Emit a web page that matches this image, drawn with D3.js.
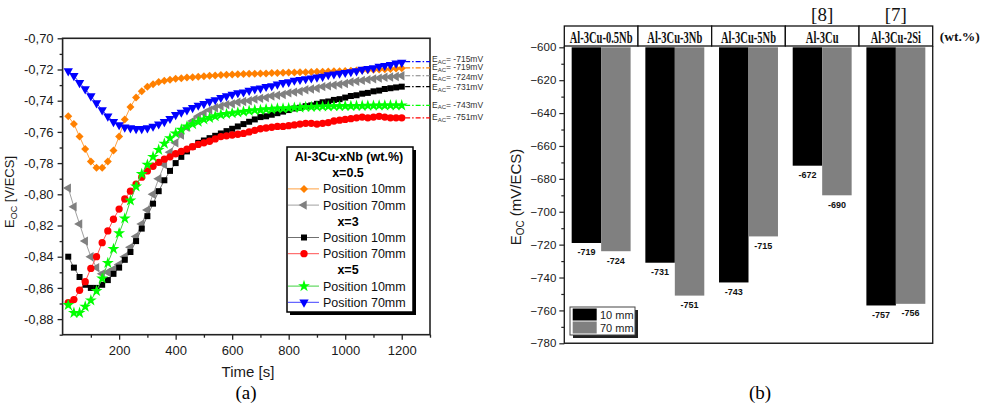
<!DOCTYPE html>
<html lang="en">
<head>
<meta charset="utf-8">
<title>Eoc - Al-3Cu-xNb</title>
<script src="https://cdn.jsdelivr.net/npm/d3@7"></script>
<style>
  body { margin: 0; background: #fff; }
  svg { display: block; }
</style>
</head>
<body>
<script>

// ---------- (a) open circuit potential vs time ----------
var timeS = [20, 40, 60, 80, 100, 120, 140, 160, 180, 200,
  220, 240, 260, 280, 300, 320, 340, 360, 380, 400,
  420, 440, 460, 480, 500, 520, 540, 560, 580, 600,
  620, 640, 660, 680, 700, 720, 740, 760, 780, 800,
  820, 840, 860, 880, 900, 920, 940, 960, 980, 1000,
  1020, 1040, 1060, 1080, 1100, 1120, 1140, 1160, 1180, 1200];

// x=0.5, position 10mm
var nb05Pos10 = [-0.750, -0.755, -0.763, -0.771, -0.779, -0.783, -0.783, -0.779, -0.772, -0.763,
  -0.752, -0.744, -0.738, -0.734, -0.731, -0.7295, -0.728, -0.7272, -0.7265, -0.726,
  -0.7256, -0.7252, -0.7249, -0.7246, -0.7243, -0.724, -0.7238, -0.7236, -0.7234, -0.7232,
  -0.7231, -0.7229, -0.7228, -0.7227, -0.7226, -0.7225, -0.7223, -0.7222, -0.7221, -0.722,
  -0.7219, -0.7218, -0.7217, -0.7216, -0.7215, -0.7214, -0.7213, -0.7212, -0.7211, -0.721,
  -0.7208, -0.7206, -0.7205, -0.7203, -0.7202, -0.720, -0.7198, -0.7196, -0.7194, -0.7192];
// x=0.5, position 70mm
var nb05Pos70 = [-0.796, -0.808, -0.819, -0.830, -0.840, -0.847, -0.851, -0.850, -0.848, -0.845,
  -0.840, -0.834, -0.827, -0.819, -0.810, -0.800, -0.790, -0.781, -0.773, -0.767,
  -0.762, -0.757, -0.753, -0.750, -0.748, -0.746, -0.7445, -0.7435, -0.7425, -0.742,
  -0.741, -0.7405, -0.740, -0.739, -0.7385, -0.738, -0.737, -0.7365, -0.736, -0.735,
  -0.7345, -0.734, -0.733, -0.7325, -0.732, -0.731, -0.7305, -0.730, -0.7295, -0.729,
  -0.728, -0.7275, -0.727, -0.7265, -0.726, -0.7255, -0.725, -0.7248, -0.7245, -0.724];
// x=3, position 10mm
var nb3Pos10 = [-0.840, -0.847, -0.853, -0.858, -0.860, -0.860, -0.858, -0.855, -0.851, -0.847,
  -0.842, -0.837, -0.830, -0.822, -0.814, -0.806, -0.798, -0.791, -0.785, -0.780,
  -0.776, -0.7725, -0.7695, -0.767, -0.7655, -0.764, -0.7625, -0.761, -0.7595, -0.758,
  -0.7565, -0.755, -0.7535, -0.752, -0.7505, -0.750, -0.749, -0.748, -0.747, -0.746,
  -0.745, -0.7445, -0.7435, -0.743, -0.742, -0.741, -0.7405, -0.7395, -0.739, -0.738,
  -0.737, -0.7365, -0.7355, -0.735, -0.734, -0.7335, -0.7325, -0.732, -0.7315, -0.731];
// x=3, position 70mm
var nb3Pos70 = [-0.8695, -0.8675, -0.8615, -0.856, -0.8475, -0.840, -0.831, -0.8235, -0.816, -0.8095,
  -0.803, -0.798, -0.7935, -0.789, -0.785, -0.782, -0.7795, -0.7775, -0.776, -0.774,
  -0.7725, -0.771, -0.7695, -0.768, -0.767, -0.766, -0.7645, -0.763, -0.7625, -0.762,
  -0.7615, -0.761, -0.760, -0.759, -0.758, -0.7575, -0.757, -0.7565, -0.7565, -0.756,
  -0.7555, -0.755, -0.7545, -0.7545, -0.755, -0.7545, -0.754, -0.753, -0.7525, -0.752,
  -0.7515, -0.751, -0.7505, -0.751, -0.7505, -0.750, -0.7505, -0.751, -0.751, -0.751];
// x=5, position 10mm
var nb5Pos10 = [-0.871, -0.876, -0.876, -0.872, -0.868, -0.862, -0.854, -0.844, -0.835, -0.825,
  -0.8155, -0.804, -0.795, -0.787, -0.781, -0.776, -0.7715, -0.7675, -0.764, -0.761,
  -0.7585, -0.7565, -0.755, -0.7535, -0.752, -0.751, -0.750, -0.749, -0.7485, -0.748,
  -0.7475, -0.747, -0.7465, -0.746, -0.746, -0.7455, -0.7455, -0.745, -0.745, -0.7448,
  -0.7445, -0.7445, -0.744, -0.744, -0.7438, -0.7437, -0.7436, -0.7435, -0.7435, -0.7434,
  -0.7434, -0.7433, -0.7433, -0.7432, -0.7432, -0.7431, -0.7431, -0.743, -0.743, -0.743];
// x=5, position 70mm
var nb5Pos70 = [-0.721, -0.724, -0.7285, -0.7325, -0.737, -0.7415, -0.746, -0.750, -0.7535, -0.7555,
  -0.757, -0.7575, -0.758, -0.758, -0.7575, -0.7565, -0.755, -0.7535, -0.7515, -0.749,
  -0.7475, -0.746, -0.7445, -0.743, -0.742, -0.7405, -0.7395, -0.738, -0.737, -0.736,
  -0.735, -0.7345, -0.7335, -0.7325, -0.732, -0.731, -0.7305, -0.7295, -0.7285, -0.728,
  -0.727, -0.7265, -0.726, -0.7255, -0.725, -0.7245, -0.7235, -0.723, -0.7225, -0.722,
  -0.7215, -0.721, -0.720, -0.7195, -0.719, -0.718, -0.7175, -0.717, -0.716, -0.7155];

var eacValues = [-715, -719, -724, -731, -743, -751];
var legendGroups = ["x=0.5", "x=3", "x=5"];
var legendPositions = ["Position 10mm", "Position 70mm"];
var xTicksA = [200, 400, 600, 800, 1000, 1200];
var yTicksA = [-0.70, -0.72, -0.74, -0.76, -0.78, -0.80, -0.82, -0.84, -0.86, -0.88];

// ---------- (b) bars ----------
var alloys = ["Al-3Cu-0.5Nb", "Al-3Cu-3Nb", "Al-3Cu-5Nb", "Al-3Cu", "Al-3Cu-2Si"];
var refs = ["", "", "", "[8]", "[7]"];
var pos10 = [-719, -731, -743, -672, -757];
var pos70 = [-724, -751, -715, -690, -756];
var barKeys = ["10 mm", "70 mm"];
var yTicksB = [-600, -620, -640, -660, -680, -700, -720, -740, -760, -780];

var W = 981, H = 403;
var svg = d3.select("body").append("svg")
  .attr("width", W).attr("height", H)
  .style("font-family", "'Liberation Sans', Arial, sans-serif");

// ===================== panel (a) =====================
var xA = d3.scaleLinear().domain([0, 1300]).range([62.6, 430]);
var yA = d3.scaleLinear().domain([-0.89, -0.70]).range([334.7, 38.3]);

var series = [
  { v: nb05Pos10, color: "#ff8000", line: "#ffa040", sym: d3.symbolSquare, size: 32, rot: 45 },
  { v: nb05Pos70, color: "#808080", line: "#a0a0a0", sym: d3.symbolTriangle, size: 38, rot: -90 },
  { v: nb3Pos10, color: "#000000", line: "#707070", sym: d3.symbolSquare, size: 36, rot: 0 },
  { v: nb3Pos70, color: "#ff0000", line: "#ff5050", sym: d3.symbolCircle, size: 42, rot: 0 },
  { v: nb5Pos10, color: "#00ff00", line: "#40d040", sym: d3.symbolStar, size: 44, rot: 0 },
  { v: nb5Pos70, color: "#0000ff", line: "#4040ff", sym: d3.symbolTriangle, size: 38, rot: 180 }
];

// minor ticks
svg.append("g")
  .attr("transform", "translate(0," + yA.range()[0] + ")")
  .call(d3.axisBottom(xA).tickValues([100, 300, 500, 700, 900, 1100, 1300]).tickSize(3).tickFormat(""))
  .call(function (g) { g.select(".domain").remove(); g.selectAll("line").attr("stroke", "#222").attr("stroke-width", 1.3); });
svg.append("g")
  .attr("transform", "translate(" + xA.range()[0] + ",0)")
  .call(d3.axisLeft(yA).tickValues([-0.71, -0.73, -0.75, -0.77, -0.79, -0.81, -0.83, -0.85, -0.87, -0.89]).tickSize(3).tickFormat(""))
  .call(function (g) { g.select(".domain").remove(); g.selectAll("line").attr("stroke", "#222").attr("stroke-width", 1.3); });

// major ticks
svg.append("g")
  .attr("transform", "translate(0," + yA.range()[0] + ")")
  .call(d3.axisBottom(xA).tickValues(xTicksA).tickSize(5).tickPadding(6).tickFormat(d3.format("d")))
  .call(function (g) {
    g.select(".domain").remove();
    g.selectAll("line").attr("stroke", "#222").attr("stroke-width", 1.3);
    g.selectAll("text").attr("font-size", "13px").attr("fill", "#1a1a1a").attr("font-family", "'Liberation Sans', Arial");
  });
svg.append("g")
  .attr("transform", "translate(" + xA.range()[0] + ",0)")
  .call(d3.axisLeft(yA).tickValues(yTicksA).tickSize(5).tickPadding(4)
    .tickFormat(function (d) { return d.toFixed(2).replace(".", ","); }))
  .call(function (g) {
    g.select(".domain").remove();
    g.selectAll("line").attr("stroke", "#222").attr("stroke-width", 1.3);
    g.selectAll("text").attr("font-size", "13px").attr("fill", "#1a1a1a").attr("font-family", "'Liberation Sans', Arial");
  });

// frame
svg.append("rect")
  .attr("x", xA.range()[0]).attr("y", yA.range()[1])
  .attr("width", xA.range()[1] - xA.range()[0])
  .attr("height", yA.range()[0] - yA.range()[1])
  .attr("fill", "none").attr("stroke", "#222").attr("stroke-width", 1.6);

// curves
var line = d3.line()
  .x(function (d) { return xA(d[0]); })
  .y(function (d) { return yA(d[1]); });

series.forEach(function (s) {
  var pts = timeS.map(function (t, i) { return [t, s.v[i]]; });
  svg.append("path")
    .datum(pts)
    .attr("d", line)
    .attr("fill", "none")
    .attr("stroke", s.line)
    .attr("stroke-width", 1);
  svg.append("g").selectAll("path")
    .data(pts)
    .enter()
    .append("path")
    .attr("d", d3.symbol().type(s.sym).size(s.size))
    .attr("transform", function (d) {
      return "translate(" + xA(d[0]) + "," + yA(d[1]) + ") rotate(" + s.rot + ")";
    })
    .attr("fill", s.color);
});

// E_AC guide lines and labels (labels nudged apart when too close)
var eacColors = ["#0000ff", "#ff8000", "#808080", "#000000", "#00ff00", "#ff0000"];
var minGap = 10.5;
var labelY = eacValues.map(function (v) { return yA(v / 1000); });
for (var k = 1; k < labelY.length; k++) {
  var gap = labelY[k] - labelY[k - 1];
  if (gap < minGap) {
    labelY[k - 1] -= (minGap - gap) / 2;
    labelY[k] += (minGap - gap) / 2;
  }
}
eacValues.forEach(function (v, i) {
  svg.append("line")
    .attr("x1", xA(1212)).attr("x2", xA(1300))
    .attr("y1", yA(v / 1000)).attr("y2", yA(v / 1000))
    .attr("stroke", eacColors[i]).attr("stroke-width", 1.2)
    .attr("stroke-dasharray", "5,2,1.5,2");
  var t = svg.append("text")
    .attr("x", xA(1300) + 2).attr("y", labelY[i] + 2.5)
    .attr("font-size", "8.5px").attr("fill", "#333");
  t.append("tspan").text("E");
  t.append("tspan").attr("font-size", "6px").attr("dy", 1.5).text("AC");
  t.append("tspan").attr("dy", -1.5).text("= " + v + "mV");
});

// legend (a)
var lg = svg.append("g");
lg.append("rect").attr("x", 290).attr("y", 150).attr("width", 126).attr("height", 165).attr("fill", "#000");
lg.append("rect").attr("x", 287).attr("y", 147).attr("width", 126).attr("height", 165)
  .attr("fill", "#fff").attr("stroke", "#000").attr("stroke-width", 1.5);
lg.append("text").attr("x", 349).attr("y", 161).attr("text-anchor", "middle")
  .attr("font-weight", "bold").attr("font-size", "12.5px").text("Al-3Cu-xNb (wt.%)");
var row = 0;
legendGroups.forEach(function (gname, gi) {
  var yy = 177.2 + row * 16.2;
  lg.append("text").attr("x", 348).attr("y", yy).attr("text-anchor", "middle")
    .attr("font-weight", "bold").attr("font-size", "12.5px").text(gname);
  row++;
  legendPositions.forEach(function (p, pi) {
    var s = series[gi * 2 + pi];
    var yb = 177.2 + row * 16.2;
    lg.append("line").attr("x1", 288).attr("x2", 319).attr("y1", yb - 4.5).attr("y2", yb - 4.5)
      .attr("stroke", s.line).attr("stroke-width", 1);
    lg.append("path")
      .attr("d", d3.symbol().type(s.sym).size(s.size))
      .attr("transform", "translate(304," + (yb - 4.5) + ") rotate(" + s.rot + ")")
      .attr("fill", s.color);
    lg.append("text").attr("x", 323).attr("y", yb).attr("font-size", "12.5px")
      .attr("fill", "#111").text(p);
    row++;
  });
});

// axis titles (a)
svg.append("text").attr("x", 248).attr("y", 377).attr("text-anchor", "middle")
  .attr("font-size", "15px").attr("fill", "#1a1a1a").text("Time [s]");
var ya = svg.append("text").attr("transform", "translate(14,192) rotate(-90)")
  .attr("text-anchor", "middle").attr("font-size", "13px").attr("fill", "#1a1a1a");
ya.append("tspan").text("E");
ya.append("tspan").attr("font-size", "9px").attr("dy", 3).text("OC");
ya.append("tspan").attr("dy", -3).text(" [V/ECS]");
svg.append("text").attr("x", 246).attr("y", 399).attr("text-anchor", "middle")
  .attr("font-family", "'Liberation Serif', 'Times New Roman', serif").attr("font-size", "19px").text("(a)");

// ===================== panel (b) =====================
var xB = d3.scaleBand().domain(alloys).range([564.3, 932.7]).padding(0);
var xSub = d3.scaleBand().domain(barKeys).range([0, xB.bandwidth()]).paddingInner(0).paddingOuter(0.25);
var yB = d3.scaleLinear().domain([-780, -600]).range([343.3, 47.3]);
var barColor = { "10 mm": "#000000", "70 mm": "#808080" };

var barData = alloys.map(function (a, i) {
  return { alloy: a, vals: [{ key: "10 mm", v: pos10[i] }, { key: "70 mm", v: pos70[i] }] };
});

// bars
var grp = svg.append("g").selectAll("g")
  .data(barData)
  .enter()
  .append("g")
  .attr("transform", function (d) { return "translate(" + xB(d.alloy) + ",0)"; });
grp.selectAll("rect")
  .data(function (d) { return d.vals; })
  .enter()
  .append("rect")
  .attr("x", function (d) { return xSub(d.key); })
  .attr("y", yB(-600))
  .attr("width", xSub.bandwidth())
  .attr("height", function (d) { return yB(d.v) - yB(-600); })
  .attr("fill", function (d) { return barColor[d.key]; });
grp.selectAll("text")
  .data(function (d) { return d.vals; })
  .enter()
  .append("text")
  .attr("x", function (d) { return xSub(d.key) + xSub.bandwidth() / 2; })
  .attr("y", function (d) { return yB(d.v) + 12.5; })
  .attr("text-anchor", "middle")
  .attr("font-size", "9px").attr("font-weight", "bold").attr("fill", "#111")
  .text(function (d) { return d.v; });

// y axis (b)
svg.append("g")
  .attr("transform", "translate(" + xB.range()[0] + ",0)")
  .call(d3.axisLeft(yB).tickValues([-610, -630, -650, -670, -690, -710, -730, -750, -770]).tickSize(3).tickFormat(""))
  .call(function (g) { g.select(".domain").remove(); g.selectAll("line").attr("stroke", "#222").attr("stroke-width", 1.2); });
svg.append("g")
  .attr("transform", "translate(" + xB.range()[0] + ",0)")
  .call(d3.axisLeft(yB).tickValues(yTicksB).tickSize(5).tickPadding(3).tickFormat(d3.format("d")))
  .call(function (g) {
    g.select(".domain").remove();
    g.selectAll("line").attr("stroke", "#222").attr("stroke-width", 1.2);
    g.selectAll("text").attr("font-size", "11.5px").attr("fill", "#1a1a1a").attr("font-family", "'Liberation Sans', Arial");
  });

// frame (b)
svg.append("path")
  .attr("d", "M" + xB.range()[0] + "," + 46 + "V" + yB(-780) + "H" + xB.range()[1] + "V" + 46)
  .attr("fill", "none").attr("stroke", "#222").attr("stroke-width", 1.4);

// header boxes
var hdr = svg.append("g").selectAll("g")
  .data(alloys)
  .enter()
  .append("g");
hdr.append("rect")
  .attr("x", function (d) { return xB(d); })
  .attr("y", 26).attr("width", xB.bandwidth()).attr("height", 20)
  .attr("fill", "#fff").attr("stroke", "#111").attr("stroke-width", 1.3);
hdr.append("text")
  .attr("transform", function (d) { return "translate(" + (xB(d) + xB.bandwidth() / 2) + ",42.5) scale(0.62,1)"; })
  .attr("text-anchor", "middle")
  .attr("font-family", "'Liberation Serif', 'Times New Roman', serif")
  .attr("font-weight", "bold").attr("font-size", "17px").attr("fill", "#111")
  .text(function (d) { return d; });
hdr.append("text")
  .attr("x", function (d) { return xB(d) + xB.bandwidth() / 2; })
  .attr("y", 21)
  .attr("text-anchor", "middle")
  .attr("font-family", "'Liberation Serif', 'Times New Roman', serif")
  .attr("font-size", "19px").attr("fill", "#111")
  .text(function (d, i) { return refs[i]; });
svg.append("text").attr("x", xB.range()[1] + 7).attr("y", 41)
  .attr("font-family", "'Liberation Serif', 'Times New Roman', serif")
  .attr("font-weight", "bold").attr("font-size", "13.5px").attr("fill", "#111").text("(wt.%)");

// legend (b)
var lb = svg.append("g");
lb.append("rect").attr("x", 573).attr("y", 310).attr("width", 65).attr("height", 28).attr("fill", "#222");
lb.append("rect").attr("x", 570).attr("y", 307).attr("width", 65).attr("height", 28)
  .attr("fill", "#fff").attr("stroke", "#444").attr("stroke-width", 1);
barKeys.forEach(function (k, i) {
  lb.append("rect").attr("x", 572.7).attr("y", 308.5 + i * 13).attr("width", 24).attr("height", 12)
    .attr("fill", barColor[k]);
  lb.append("text").attr("x", 600).attr("y", 318.8 + i * 13).attr("font-size", "11px")
    .attr("fill", "#222").text(k);
});

// axis title (b)
var yb = svg.append("text").attr("transform", "translate(521,197) rotate(-90)")
  .attr("text-anchor", "middle").attr("font-size", "15px").attr("fill", "#1a1a1a");
yb.append("tspan").text("E");
yb.append("tspan").attr("font-size", "10px").attr("dy", 3).text("OC");
yb.append("tspan").attr("dy", -3).text(" (mV/ECS)");
svg.append("text").attr("x", 760).attr("y", 399).attr("text-anchor", "middle")
  .attr("font-family", "'Liberation Serif', 'Times New Roman', serif").attr("font-size", "19px").text("(b)");

</script>
</body>
</html>
